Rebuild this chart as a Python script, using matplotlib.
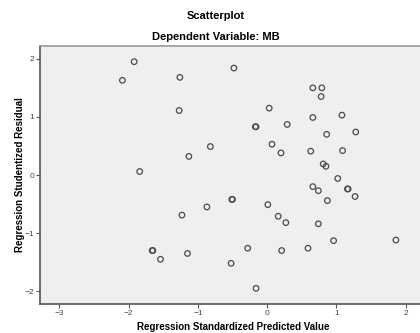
import matplotlib
matplotlib.use("Agg")
import matplotlib.pyplot as plt

# regression standardized predicted value vs studentized residual
pred = [-1.92, -2.09, -1.26, -0.48, 0.66, 0.79, 0.78, -1.27, 0.03, 0.66, 1.08,
        -0.17, -0.16, 0.29, 0.86, 1.28, -0.82, -1.13, 0.07, 0.20, 0.63, 1.09,
        -1.84, 0.81, 0.85, 1.02, 0.66, 0.74, 1.16, 1.17, 1.27, 0.87,
        -0.51, -0.50, -0.87, 0.01, -1.23, 0.16, 0.27, 0.74,
        0.96, 1.86, -1.66, -1.65, -1.54, -1.15, -0.28, 0.21, 0.59, -0.52, -0.16]
resid = [1.95, 1.63, 1.68, 1.84, 1.50, 1.50, 1.35, 1.11, 1.15, 0.99, 1.03,
         0.83, 0.83, 0.87, 0.70, 0.74, 0.49, 0.32, 0.53, 0.38, 0.41, 0.42,
         0.06, 0.19, 0.15, -0.06, -0.20, -0.27, -0.24, -0.24, -0.37, -0.44,
         -0.42, -0.42, -0.55, -0.51, -0.69, -0.71, -0.82, -0.84,
         -1.13, -1.12, -1.30, -1.30, -1.45, -1.35, -1.26, -1.30, -1.26, -1.52, -1.95]

xticks = [-3, -2, -1, 0, 1, 2]
yticks = [-2, -1, 0, 1, 2]

W, H = 420, 333
fig = plt.figure(figsize=(W / 100, H / 100), dpi=100)
plt.rcParams['font.family'] = ['Liberation Sans', 'DejaVu Sans']

ax = fig.add_axes([40 / W, 1 - 304 / H, 385 / W, 258 / H])
ax.set_facecolor('#efefef')
ax.scatter(pred, resid, s=16, facecolors='none', edgecolors='#4a4a4a', linewidths=0.9, zorder=3)

ax.set_xlim(-3.28, 2.28)
ax.set_ylim(-2.22, 2.22)
ax.set_xticks(xticks)
ax.set_yticks(yticks)
ax.tick_params(direction='out', length=3, width=0.8, colors='#555555',
               labelsize=6, labelcolor='#444444', pad=1)

for side in ['left', 'bottom']:
    ax.spines[side].set_color('#555555')
    ax.spines[side].set_linewidth(1.2)
ax.spines['top'].set_color('#999999')
ax.spines['top'].set_linewidth(1.2)
ax.spines['right'].set_visible(False)

fig.text(216 / W, 1 - 16 / H, 'Scatterplot', ha='center', va='center',
         fontsize=8, fontweight='bold')
fig.text(216 / W, 1 - 37 / H, 'Dependent Variable: MB', ha='center', va='center',
         fontsize=8, fontweight='bold')
fig.text(233 / W, 1 - 327 / H, 'Regression Standardized Predicted Value', ha='center',
         va='center', fontsize=7, fontweight='bold')
fig.text(20 / W, 1 - 175 / H, 'Regression Studentized Residual', ha='center',
         va='center', rotation=90, fontsize=7, fontweight='bold')

plt.savefig('out.png', dpi=100)
